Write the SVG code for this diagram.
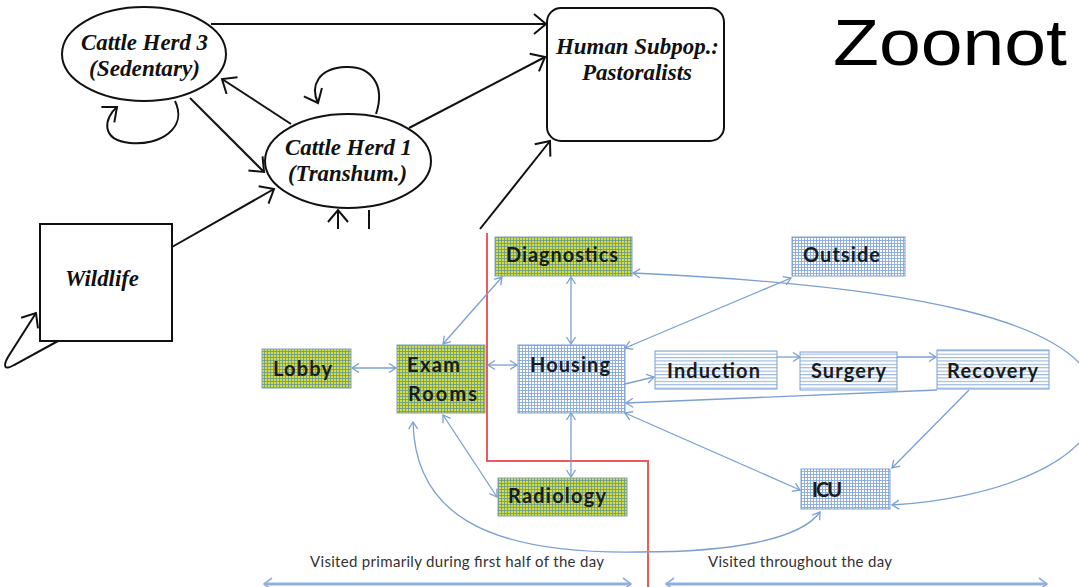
<svg xmlns="http://www.w3.org/2000/svg" width="1079" height="587" viewBox="0 0 1079 587">
  <style>
    .lk { fill: none; stroke: #111; stroke-width: 2; }
    .ser { font-family: "Liberation Serif", "Times New Roman", serif; font-weight: bold; font-style: italic; font-size: 24px; fill: #111; }
    .bl { fill: none; stroke: #7b9fd3; stroke-width: 1.3; }
    .lab { font-family: Lato, "Liberation Sans", sans-serif; font-weight: bold; font-size: 20px; fill: #1b1b1b; }
    .gbox { fill: url(#gGrid); stroke: #7f9fc0; stroke-width: 1; }
    .bbox { fill: url(#bGrid); stroke: #7d9fd4; stroke-width: 1; }
    .sbox { fill: url(#hStripe); stroke: #7d9fd4; stroke-width: 1; }
    .note { font-family: Lato, "Liberation Sans", sans-serif; font-size: 15px; fill: #333; }
  </style>
  <defs>
    <pattern id="gGrid" width="3" height="3" patternUnits="userSpaceOnUse">
      <rect width="3" height="3" fill="#d3df3e"/>
      <path d="M0 0.5H3M0.5 0V3" stroke="#6f9c86" stroke-width="0.9"/>
    </pattern>
    <pattern id="bGrid" width="3" height="3" patternUnits="userSpaceOnUse">
      <rect width="3" height="3" fill="#ffffff"/>
      <path d="M0 0.5H3M0.5 0V3" stroke="#86a8dc" stroke-width="0.9"/>
    </pattern>
    <pattern id="hStripe" width="3" height="3.4" patternUnits="userSpaceOnUse">
      <rect width="3" height="3.4" fill="#ffffff"/>
      <path d="M0 0.6H3" stroke="#8eaedb" stroke-width="1"/>
    </pattern>
    <marker id="ak" markerUnits="userSpaceOnUse" markerWidth="16" markerHeight="24" refX="13" refY="11" orient="auto">
      <path d="M1,1 L13,11 L1,21" fill="none" stroke="#111" stroke-width="2"/>
    </marker>
    <marker id="ab" markerUnits="userSpaceOnUse" markerWidth="10" markerHeight="12" refX="8" refY="6" orient="auto-start-reverse">
      <path d="M1,1.5 L8,6 L1,10.5" fill="none" stroke="#7b9fd3" stroke-width="1.3"/>
    </marker>
    <marker id="abw" markerUnits="userSpaceOnUse" markerWidth="12" markerHeight="16" refX="9" refY="8" orient="auto-start-reverse">
      <path d="M1,2 L9,8 L1,14" fill="none" stroke="#8fb0dc" stroke-width="1.6"/>
    </marker>
  </defs>

  <rect width="1079" height="587" fill="#ffffff"/>

  <!-- herd and population model -->
  <g id="connectors-top">
    <path class="lk" d="M211 24 H546" marker-end="url(#ak)"/>
    <path class="lk" d="M409 128 L545 57" marker-end="url(#ak)"/>
    <path class="lk" d="M480 229 L550 141" marker-end="url(#ak)"/>
    <path class="lk" d="M190 98 L264 172" marker-end="url(#ak)"/>
    <path class="lk" d="M291 124 L222 79" marker-end="url(#ak)"/>
    <path class="lk" d="M172 247 L274 189" marker-end="url(#ak)"/>
    <path class="lk" d="M175 101 C188 128 160 146 130 143 C100 140 104 118 117 107" marker-end="url(#ak)"/>
    <path class="lk" d="M376 114 C386 84 370 66 346 67 C318 68 310 86 318 103" marker-end="url(#ak)"/>
    <path class="lk" d="M338 229 V210" marker-end="url(#ak)"/>
    <path class="lk" d="M369 210 V229"/>
    <path class="lk" d="M58 341 L14 365 C4 371 3 366 8 357 L36 313" marker-end="url(#ak)"/>
  </g>

  <g id="herd3">
    <ellipse cx="144" cy="54" rx="82" ry="47" fill="#fff" stroke="#111" stroke-width="2"/>
    <text class="ser" x="81" y="50" textLength="127" lengthAdjust="spacingAndGlyphs">Cattle Herd 3</text>
    <text class="ser" x="89" y="76" textLength="111" lengthAdjust="spacingAndGlyphs">(Sedentary)</text>
  </g>
  <g id="herd1">
    <ellipse cx="348" cy="161" rx="83" ry="47" fill="#fff" stroke="#111" stroke-width="2"/>
    <text class="ser" x="285" y="155" textLength="127" lengthAdjust="spacingAndGlyphs">Cattle Herd 1</text>
    <text class="ser" x="288" y="181" textLength="119" lengthAdjust="spacingAndGlyphs">(Transhum.)</text>
  </g>
  <g id="human">
    <rect x="547" y="8" width="177" height="133" rx="14" fill="#fff" stroke="#111" stroke-width="2"/>
    <text class="ser" x="556" y="54" textLength="163" lengthAdjust="spacingAndGlyphs">Human Subpop.:</text>
    <text class="ser" x="582" y="80" textLength="110" lengthAdjust="spacingAndGlyphs">Pastoralists</text>
  </g>
  <g id="wildlife">
    <rect x="40" y="224" width="132" height="117" fill="#fff" stroke="#111" stroke-width="2"/>
    <text class="ser" x="65" y="286" textLength="74" lengthAdjust="spacingAndGlyphs">Wildlife</text>
  </g>

  <text id="title" x="833" y="65" font-family="'Liberation Sans', Arial, sans-serif" font-size="65" fill="#000" textLength="234" lengthAdjust="spacingAndGlyphs">Zoonot</text>

  <!-- hospital floor flow -->
  <rect x="232" y="230" width="847" height="357" fill="#fff"/>
  <path id="divider" d="M487 233 V461 H648 V587" fill="none" stroke="#ec5a5a" stroke-width="2"/>

  <g id="connectors-ward">
    <path class="bl" d="M352 368 H396" marker-start="url(#ab)" marker-end="url(#ab)"/>
    <path class="bl" d="M488 365 H517" marker-start="url(#ab)" marker-end="url(#ab)"/>
    <path class="bl" d="M443 344 L502 277" marker-start="url(#ab)" marker-end="url(#ab)"/>
    <path class="bl" d="M571 277 V344" marker-start="url(#ab)" marker-end="url(#ab)"/>
    <path class="bl" d="M633 273 C900 285 1092 318 1097 400 C1100 462 990 500 892 505" marker-start="url(#ab)" marker-end="url(#ab)"/>
    <path class="bl" d="M625 348 L791 278" marker-start="url(#ab)" marker-end="url(#ab)"/>
    <path class="bl" d="M625 384 L654 377" marker-end="url(#ab)"/>
    <path class="bl" d="M777 357 H800" marker-end="url(#ab)"/>
    <path class="bl" d="M897 357 H936" marker-end="url(#ab)"/>
    <path class="bl" d="M937 390 L626 403" marker-end="url(#ab)"/>
    <path class="bl" d="M625 413 L800 490" marker-start="url(#ab)" marker-end="url(#ab)"/>
    <path class="bl" d="M571 413 V477" marker-start="url(#ab)" marker-end="url(#ab)"/>
    <path class="bl" d="M443 415 L497 497" marker-start="url(#ab)" marker-end="url(#ab)"/>
    <path class="bl" d="M413 422 C415 510 480 555 640 552 C730 552 800 540 820 512" marker-start="url(#ab)" marker-end="url(#ab)"/>
    <path class="bl" d="M969 390 L892 468" marker-end="url(#ab)"/>
    <path d="M264 584 H631" fill="none" stroke="#8fb0dc" stroke-width="3" marker-start="url(#abw)" marker-end="url(#abw)"/>
    <path d="M666 584 H1047" fill="none" stroke="#8fb0dc" stroke-width="3" marker-start="url(#abw)" marker-end="url(#abw)"/>
  </g>

  <g id="diagnostics">
    <rect class="gbox" x="495" y="237" width="137" height="39"/>
    <text class="lab" x="506" y="262" textLength="112">Diagnostics</text>
  </g>
  <g id="outside">
    <rect class="bbox" x="792" y="237" width="113" height="39"/>
    <text class="lab" x="803" y="262" textLength="77">Outside</text>
  </g>
  <g id="lobby">
    <rect class="gbox" x="262" y="349" width="89" height="39"/>
    <text class="lab" x="273" y="376" textLength="59">Lobby</text>
  </g>
  <g id="exam-rooms">
    <rect class="gbox" x="397" y="345" width="88" height="68"/>
    <text class="lab" x="407" y="372" textLength="53">Exam</text>
    <text class="lab" x="408" y="401" textLength="69">Rooms</text>
  </g>
  <g id="housing">
    <rect class="bbox" x="518" y="345" width="107" height="68"/>
    <text class="lab" x="530" y="372" textLength="80">Housing</text>
  </g>
  <g id="induction">
    <rect class="sbox" x="655" y="351" width="122" height="38"/>
    <text class="lab" x="667" y="378" textLength="93">Induction</text>
  </g>
  <g id="surgery">
    <rect class="sbox" x="800" y="352" width="97" height="38"/>
    <text class="lab" x="811" y="378" textLength="75">Surgery</text>
  </g>
  <g id="recovery">
    <rect class="sbox" x="937" y="350" width="112" height="39"/>
    <text class="lab" x="947" y="378" textLength="91">Recovery</text>
  </g>
  <g id="radiology">
    <rect class="gbox" x="498" y="478" width="129" height="38"/>
    <text class="lab" x="508" y="503" textLength="98">Radiology</text>
  </g>
  <g id="icu">
    <rect class="bbox" x="801" y="469" width="89" height="40"/>
    <text class="lab" x="812" y="497" textLength="30">ICU</text>
  </g>

  <text class="note" x="310" y="567" textLength="294">Visited primarily during first half of the day</text>
  <text class="note" x="708" y="567" textLength="184">Visited throughout the day</text>
</svg>
